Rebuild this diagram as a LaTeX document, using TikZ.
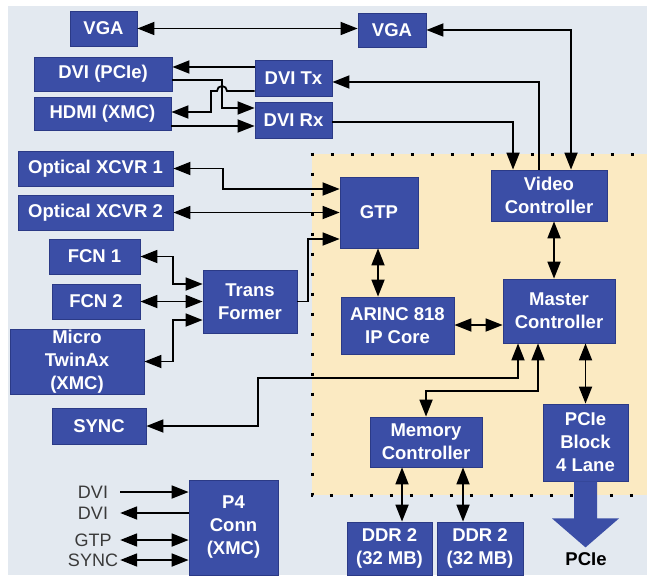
\documentclass[tikz,border=0pt]{standalone}
\usepackage{fontspec}
\setsansfont{Liberation Sans}
\usetikzlibrary{arrows.meta}
\definecolor{panel}{HTML}{E3E9F0}
\definecolor{fpga}{HTML}{FBEAC2}
\definecolor{blk}{HTML}{3B4EA6}
\definecolor{blkedge}{HTML}{2B3A86}
\definecolor{sigink}{HTML}{3A3A3A}

\begin{document}
\begin{tikzpicture}[x=1pt,y=-1pt,
  font=\sffamily\bfseries\fontsize{18.5}{23}\selectfont,
  >={Triangle[length=17pt,width=13pt]},
  box/.style 2 args={draw=blkedge,fill=blk,text=white,line width=0.8pt,align=center,inner sep=0pt,minimum width=#1pt,minimum height=#2pt},
  sig/.style={font=\sffamily\fontsize{18}{20}\selectfont,text=sigink,minimum width=54pt,inner sep=0pt},
  arr/.style={->,line width=1.8pt},
  dbl/.style={<->,line width=1.8pt},
  dots/.style={line width=3pt,dash pattern=on 3pt off 17pt}]
\useasboundingbox (0,0) rectangle (647,575);
% panels
\fill[panel] (8,6) rectangle (647,575);
\fill[fpga] (312,154) rectangle (647,495);
\draw[dots] (310.5,154) -- (647,154);
\draw[dots] (312,152.5) -- (312,495) -- (647,495);
% video side
\node[box={67}{35}] (vgaA) at (103.5,28.5) {VGA};
\node[box={68}{34}] (vgaB) at (392,30) {VGA};
\node[box={138}{34}] (dvip) at (103,74) {DVI (PCIe)};
\node[box={137}{33}] (hdmi) at (102.5,113.5) {HDMI (XMC)};
\node[box={77}{36}] (dvitx) at (293.5,78) {DVI Tx};
\node[box={77}{36}] (dvirx) at (293.5,120) {DVI Rx};
% serial links
\node[box={155}{35}] (opt1) at (95.5,168.5) {Optical XCVR 1};
\node[box={155}{35}] (opt2) at (95.5,212.5) {Optical XCVR 2};
\node[box={91}{35}] (fcn1) at (94.5,256.5) {FCN 1};
\node[box={88}{35}] (fcn2) at (96,301.5) {FCN 2};
\node[box={134}{65}] (micro) at (77,361.5) {Micro\\TwinAx\\(XMC)};
\node[box={94}{63}] (trans) at (250,301.5) {Trans\\Former};
\node[box={94}{36}] (sync) at (99,426) {SYNC};
% FPGA blocks
\node[box={78}{71}] (gtp) at (379,212.5) {GTP};
\node[box={116}{51}] (video) at (549,195.5) {Video\\Controller};
\node[box={112}{64}] (master) at (559,311) {Master\\Controller};
\node[box={113}{57}] (arinc) at (397.5,325.5) {ARINC 818\\IP Core};
\node[box={112}{50}] (mem) at (426,442) {Memory\\Controller};
\node[box={85}{77}] (pcie) at (585.5,442.5) {PCIe\\Block\\4 Lane};
% memory and connector
\node[box={85}{53}] (ddrA) at (389.5,548.5) {DDR 2\\(32 MB)};
\node[box={86}{53}] (ddrB) at (480,548.5) {DDR 2\\(32 MB)};
\node[box={89}{95}] (p4) at (233.5,527.5) {P4\\Conn\\(XMC)};
\node[sig] (sdviA) at (93,492) {DVI};
\node[sig] (sdviB) at (93,513) {DVI};
\node[sig] (sgtp) at (93,540) {GTP};
\node[sig] (ssync) at (93,560) {SYNC};
% video links
\draw[dbl] (vgaA.east) -- (vgaA.east -| vgaB.west);
\draw[dbl] (vgaB.east) -| (571,0 |- video.north);
\draw[arr] (539,0 |- video.north) |- (dvitx.east |- 0,82);
\draw[arr] (dvirx.east |- 0,122) -| (513,0 |- video.north);
\draw[arr] (dvitx.west |- 0,67) -- (dvip.east |- 0,67);
\draw[arr] (dvip.east |- 0,80) -| (222,108) -- (dvirx.west |- 0,108);
\draw[arr] (dvitx.west |- 0,91) -- (227,91) arc[start angle=0,end angle=180,radius=5pt] -- (211,91) |- (hdmi.east |- 0,112);
\draw[arr] (hdmi.east |- 0,126) -- (dvirx.west |- 0,126);
% serial links
\draw[dbl] (opt1.east) -| (223,189) -- (gtp.west |- 0,189);
\draw[dbl] (opt2.east) -- (opt2.east -| gtp.west);
\draw[arr] (trans.east) -| (308,239) -- (gtp.west |- 0,239);
\draw[dbl] (fcn1.east) -| (173,284) -- (trans.west |- 0,284);
\draw[dbl] (fcn2.east) -- (fcn2.east -| trans.west);
\draw[dbl] (micro.east) -| (173,320) -- (trans.west |- 0,320);
% inside FPGA
\draw[dbl] (378,0 |- gtp.south) -- (378,0 |- arinc.north);
\draw[dbl] (arinc.east |- 0,325) -- (master.west |- 0,325);
\draw[dbl] (554,0 |- video.south) -- (554,0 |- master.north);
\draw[dbl] (master.south -| pcie.north) -- (pcie.north);
\draw[dbl] (sync.east) -| (258,378) -| (518,0 |- master.south);
\draw[dbl] (426,0 |- mem.north) |- (538,391) -- (538,0 |- master.south);
\draw[dbl] (402,0 |- mem.south) -- (402,0 |- ddrA.north);
\draw[dbl] (463,0 |- mem.south) -- (463,0 |- ddrB.north);
% PCIe out
\fill[blk] (pcie.south) ++(-11.5,0) -- ++(23,0) -- ++(0,37) -- ++(22,0) -- ++(-33.5,29) -- ++(-33.5,-29) -- ++(22,0) -- cycle;
\node[inner sep=0pt] (pcieout) at (586,559) {PCIe};
% P4 signals
\draw[arr] (sdviA.east) -- (sdviA.east -| p4.west);
\draw[arr] (sdviB.east -| p4.west) -- (sdviB.east);
\draw[dbl] (sgtp.east) -- (sgtp.east -| p4.west);
\draw[dbl] (ssync.east) -- (ssync.east -| p4.west);
\end{tikzpicture}
\end{document}
